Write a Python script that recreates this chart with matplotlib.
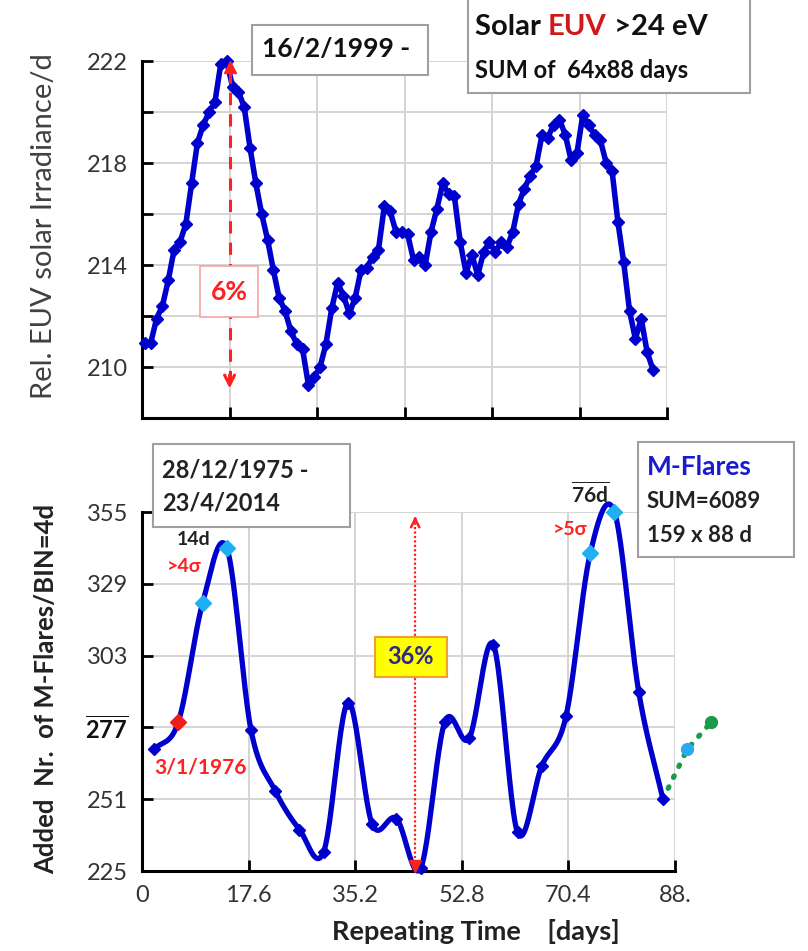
import numpy as np
import matplotlib
matplotlib.use('Agg')
import matplotlib.pyplot as plt
from matplotlib.patches import Rectangle

plt.rcParams['font.family'] = ['Lato', 'DejaVu Sans']
plt.rcParams['mathtext.fontset'] = 'custom'
plt.rcParams['mathtext.rm'] = 'Lato'
plt.rcParams['mathtext.bf'] = 'Lato:bold'

# EUV irradiance, summed over 64 cycles of 88 days (one value per day)
euv = [210.95, 210.95, 211.9, 212.4, 213.4, 214.6, 214.9, 215.6, 217.2, 218.8,
       219.5, 220.0, 220.4, 221.9, 222.0, 221.0, 220.8, 220.2, 218.6, 217.2,
       216.0, 215.0, 213.8, 212.7, 212.2, 211.4, 210.9, 210.7, 209.3, 209.6,
       210.0, 210.9, 212.3, 213.3, 212.8, 212.1, 212.7, 213.8, 213.9, 214.3,
       214.6, 216.3, 216.1, 215.3, 215.3, 215.2, 214.2, 214.3, 214.0, 215.3,
       216.2, 217.2, 216.8, 216.7, 214.9, 213.7, 214.4, 213.6, 214.5, 214.9,
       214.5, 214.9, 214.7, 215.3, 216.4, 217.0, 217.5, 217.9, 219.1, 219.0,
       219.5, 219.7, 219.1, 218.1, 218.4, 219.9, 219.5, 219.1, 218.9, 218.0,
       217.7, 215.7, 214.1, 212.2, 211.1, 211.9, 210.6, 209.9]
euv_days = np.arange(len(euv))

# M-flares in 4-day bins
flare_days = [2, 6, 10, 14, 18, 22, 26, 30, 34, 38, 42, 46, 50, 54, 58, 62, 66, 70, 74, 78, 82, 86]
flares = [269, 279, 322, 342, 276, 254, 240, 232, 286, 242, 244, 226, 279, 273, 307, 239,
          263, 281, 340, 355, 290, 251]
# wrap-around: first two bins repeated after 88 d
wrap_days = [86, 90, 94]
wrap_vals = [flares[-1], flares[0], flares[1]]

top_yticks = [210, 214, 218, 222]
bot_yticks = [225, 251, 277, 303, 329, 355]
bot_xticks = [0, 17.6, 35.2, 52.8, 70.4, 88]
bot_xlabels = ['0', '17.6', '35.2', '52.8', '70.4', '88.']

BLUE = '#0000CC'
GRID = '#d4d4d4'
TXT = '#333333'


def smooth(x, y, n=24):
    # Catmull-Rom curve through the points
    P = np.column_stack([x, y]).astype(float)
    P = np.vstack([2 * P[0] - P[1], P, 2 * P[-1] - P[-2]])
    t = np.linspace(0, 1, n, endpoint=False)[:, None]
    out = []
    for i in range(1, len(P) - 2):
        p0, p1, p2, p3 = P[i - 1], P[i], P[i + 1], P[i + 2]
        seg = 0.5 * (2 * p1 + (p2 - p0) * t + (2 * p0 - 5 * p1 + 4 * p2 - p3) * t ** 2
                     + (-p0 + 3 * p1 - 3 * p2 + p3) * t ** 3)
        out.append(seg)
    out.append(P[-2][None, :])
    s = np.vstack(out)
    return s[:, 0], s[:, 1]


W, H = 808, 951
fig = plt.figure(figsize=(W / 100, H / 100), dpi=100)


def fx(px):
    return px / W


def fy(py):
    return 1 - py / H


def box(x0, y0, x1, y1, ec='#a0a0a0', fc='white', lw=1.5):
    fig.patches.append(Rectangle((fx(x0), fy(y1)), fx(x1) - fx(x0), fy(y0) - fy(y1),
                                 transform=fig.transFigure, fc=fc, ec=ec, lw=lw, zorder=5))


def style(ax):
    for s in ['top', 'right']:
        ax.spines[s].set_visible(False)
    for s in ['left', 'bottom']:
        ax.spines[s].set_linewidth(2.2)
    ax.tick_params(which='both', direction='in', length=8, width=2, labelsize=17,
                   labelcolor=TXT, pad=10)
    ax.grid(True, which='both', color=GRID, lw=1.4)
    ax.set_axisbelow(True)


# ---------------- top panel: EUV ----------------
ax1 = fig.add_axes([fx(142), fy(418), fx(667.5) - fx(142), fy(61) - fy(418)])
style(ax1)
ax1.set_xlim(-0.5, 89.5)
ax1.set_ylim(208, 222)
ax1.set_xticks(np.linspace(-0.5, 89.5, 7))
ax1.set_xticklabels([])
ax1.set_yticks(top_yticks)
ax1.set_yticks([212, 216, 220], minor=True)
ax1.plot(euv_days, euv, color=BLUE, lw=4, marker='D', ms=6.5, zorder=3, clip_on=False)

arrow_x = 14.5
ax1.plot([arrow_x, arrow_x], [221.6, 209.3], color='#ff2020', lw=2.2, ls=(0, (4, 3)), zorder=4)
ax1.plot([arrow_x], [221.75], marker='^', color='#ff2020', ms=9, zorder=4, clip_on=False)
ax1.annotate('', xy=(arrow_x, 209.05), xytext=(arrow_x, 209.8),
             arrowprops=dict(arrowstyle='->', color='#ff2020', lw=2.2,
                             mutation_scale=18), zorder=4)

box(200, 266, 258, 317, ec='#f4a6a6', lw=1.2)
fig.text(fx(229), fy(292), '6%', color='#ff2020', fontsize=19, fontweight='bold',
         ha='center', va='center', zorder=6)

box(252, 25, 428, 75)
fig.text(fx(262), fy(49), '16/2/1999 -', color='#111111', fontsize=19, fontweight='bold',
         ha='left', va='center', zorder=6)

# title box: "Solar EUV >24 eV" with EUV in red
box(468, -2, 750, 93)
r = fig.canvas.get_renderer()
x_run = 475
for part, col in [('Solar ', '#111111'), ('EUV', '#d01818'), (' >24 eV', '#111111')]:
    tx = fig.text(fx(x_run), fy(27), part, color=col, fontsize=21, fontweight='bold',
                  ha='left', va='center', zorder=6)
    x_run += tx.get_window_extent(r).width
fig.text(fx(475), fy(71), 'SUM of  64x88 days', color='#111111', fontsize=17,
         fontweight='bold', ha='left', va='center', zorder=6)

fig.text(fx(44), fy(226), 'Rel. EUV solar Irradiance/d', color='#404040', fontsize=21,
         rotation=90, ha='center', va='center')

# ---------------- bottom panel: M-flares ----------------
ax2 = fig.add_axes([fx(142), fy(871), fx(675) - fx(142), fy(512) - fy(871)])
style(ax2)
ax2.grid(True, which='major', color=GRID, lw=1.4)
ax2.set_xlim(0, 88)
ax2.set_ylim(225, 355)
ax2.set_xticks(bot_xticks)
ax2.set_xticklabels(bot_xlabels)
ax2.set_yticks(bot_yticks)
ylabs = [str(v) for v in bot_yticks]
ylabs[2] = r'$\overline{\mathbf{277}}$'
ax2.set_yticklabels(ylabs)
ax2.get_yticklabels()[2].set_color('#111111')

sx, sy = smooth(flare_days, flares)
ax2.plot(sx, sy, color=BLUE, lw=3.8, zorder=3, clip_on=False)
ax2.plot(flare_days, flares, ls='none', marker='D', ms=6, color=BLUE, zorder=4, clip_on=False)

# highlighted bins
hi = [10, 14, 74, 78]
ax2.plot(hi, [flares[flare_days.index(d)] for d in hi], ls='none', marker='D', ms=8,
         color='#1eb0f0', zorder=5, clip_on=False)
ax2.plot([6], [flares[1]], ls='none', marker='D', ms=8, color='#ee1c1c', zorder=5)

# wrap-around continuation
ax2.plot(wrap_days, wrap_vals, color='#1a9a4a', lw=3.8, ls=(0, (0.3, 2.0)),
         dash_capstyle='round', zorder=3, clip_on=False)
ax2.plot([wrap_days[1]], [wrap_vals[1]], marker='o', ms=8.5, color='#2aa8f0', zorder=4, clip_on=False)
ax2.plot([wrap_days[2]], [wrap_vals[2]], marker='o', ms=8.5, color='#1a9a4a', zorder=4, clip_on=False)

# 36 % arrow
ax_x = 45.1
ax2.plot([ax_x, ax_x], [226.5, 353.5], color='#ff2020', lw=1.6, ls=(0, (1, 1)), zorder=4)
ax2.plot([ax_x], [226.8], marker='v', ms=8, color='#ff2020', zorder=4, clip_on=False)
ax2.annotate('', xy=(ax_x, 354.5), xytext=(ax_x, 351),
             arrowprops=dict(arrowstyle='->', color='#ff2020', lw=1.8, mutation_scale=15), zorder=4)
box(375, 637, 447, 677, ec='#f0a030', fc='#ffff00', lw=1.5)
fig.text(fx(411), fy(657), '36%', color='#2a2a8a', fontsize=17, fontweight='bold',
         ha='center', va='center', zorder=6)

ax2.text(8.6, 345, '14d', color='#222222', fontsize=14, fontweight='bold', ha='center', va='center')
ax2.text(6.9, 335.4, '>4σ', color='#ff2020', fontsize=14, fontweight='bold', ha='center', va='center')
ax2.text(74.0, 361.5, r'$\overline{\mathbf{76d}}$', color='#222222', fontsize=15,
         ha='center', va='center', clip_on=False)
ax2.text(70.7, 348.5, '>5σ', color='#ff2020', fontsize=14, fontweight='bold', ha='center', va='center')
ax2.text(9.6, 262.3, '3/1/1976', color='#ff2020', fontsize=15, fontweight='bold',
         ha='center', va='center')

box(153, 444, 350, 527)
fig.text(fx(162), fy(470), '28/12/1975 -', color='#222222', fontsize=17, fontweight='bold',
         ha='left', va='center', zorder=6)
fig.text(fx(162), fy(503), '23/4/2014', color='#222222', fontsize=17, fontweight='bold',
         ha='left', va='center', zorder=6)

box(638, 442, 794, 557)
fig.text(fx(647), fy(467), 'M-Flares', color='#1a1ad0', fontsize=19, fontweight='bold',
         ha='left', va='center', zorder=6)
fig.text(fx(647), fy(501), 'SUM=6089', color='#222222', fontsize=16, fontweight='bold',
         ha='left', va='center', zorder=6)
fig.text(fx(647), fy(535), '159 x 88 d', color='#222222', fontsize=16, fontweight='bold',
         ha='left', va='center', zorder=6)

fig.text(fx(46), fy(689), 'Added  Nr.  of M-Flares/BIN=4d', color='#222222', fontsize=18.5,
         fontweight='bold', rotation=90, ha='center', va='center')
fig.text(fx(476), fy(932), 'Repeating Time    [days]', color='#222222', fontsize=19.5,
         fontweight='bold', ha='center', va='center')

fig.savefig('out.png', dpi=100)
